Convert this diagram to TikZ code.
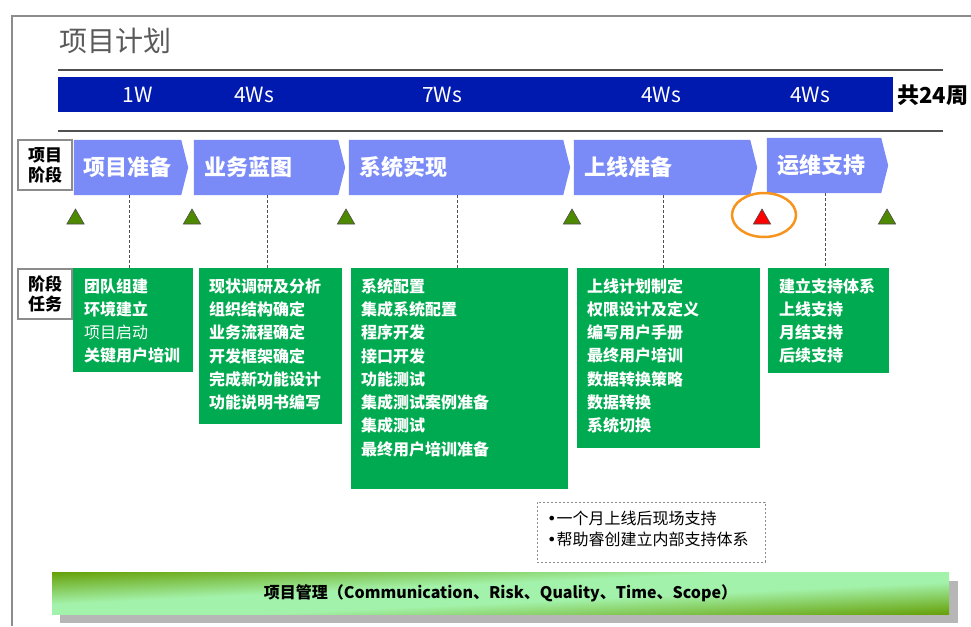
\documentclass[tikz,border=0pt]{standalone}
\usepackage{fontspec}
\setmainfont{Noto Sans CJK SC}
\newfontfamily\dvfont{DejaVu Sans}
\usetikzlibrary{shapes.geometric}
\definecolor{barblue}{RGB}{0,25,175}
\definecolor{chevblue}{RGB}{122,139,248}
\definecolor{boxgreen}{RGB}{0,170,80}
\definecolor{trigreen}{RGB}{78,138,0}
\definecolor{framegray}{RGB}{140,140,140}
\definecolor{linegray}{RGB}{80,80,80}
\definecolor{ringorange}{RGB}{247,148,29}
\definecolor{shadowgray}{RGB}{182,182,182}
\definecolor{titlegray}{RGB}{90,90,90}
% diagonal green shading: dark at top-left and bottom-right corners, light in between
\pgfdeclarefunctionalshading{mgmtgreen}{\pgfpoint{-50bp}{-50bp}}{\pgfpoint{50bp}{50bp}}{}{
  sub abs 50 div 1 exch sub 1.3 mul dup 1 gt {pop 1} if dup 0 lt {pop 0} if
  dup 0.24 mul 0.40 add exch
  dup 0.32 mul 0.63 add exch
  0.64 mul 0.03 add
}
\begin{document}
\begin{tikzpicture}[x=1pt,y=-1pt,
  rowlbl/.style={draw=framegray, line width=2pt, fill=white, minimum width=54pt, minimum height=50pt, inner sep=0pt, align=center, font=\fontsize{17}{20}\selectfont\bfseries},
  weeklbl/.style={text=white, inner sep=0pt, font=\fontsize{21}{24}\selectfont},
  chevarea/.style={inner sep=0pt, minimum height=55pt},
  chevtext/.style={text=white, anchor=west, inner sep=0pt, font=\fontsize{22}{26}\selectfont\bfseries},
  taskbox/.style={fill=boxgreen, inner sep=0pt},
  tasktext/.style={text=white, anchor=west, inner sep=0pt, font=\fontsize{16}{18}\selectfont\bfseries},
  milestone/.style={regular polygon, regular polygon sides=3, minimum size=20pt, inner sep=0pt, fill=trigreen, draw=black!70, line width=0.6pt},
  guide/.style={draw=linegray, line width=1pt, dash pattern=on 3pt off 2pt},
]
\useasboundingbox (0,0) rectangle (971,626);
% frame
\draw[framegray, line width=2pt] (12,626) -- (12,16) -- (971,16);
% title
\node[anchor=west, inner sep=0pt, text=titlegray, font=\fontsize{28}{32}\selectfont] (title) at (59,41) {项目计划};
% rules
\draw[linegray, line width=1.5pt] (58,70) -- (943,70);
\draw[linegray, line width=1.5pt] (58,131) -- (943,131);
% week bar
\node[fill=barblue, minimum width=835pt, minimum height=35pt, inner sep=0pt, anchor=north west] (bar) at (58,77) {};
\node[weeklbl] (w1) at (138,95) {1W};
\node[weeklbl] (w2) at (254,95) {4Ws};
\node[weeklbl] (w3) at (442,95) {7Ws};
\node[weeklbl] (w4) at (661,95) {4Ws};
\node[weeklbl] (w5) at (810,95) {4Ws};
\node[anchor=west, inner sep=0pt, font=\fontsize{22}{26}\selectfont\bfseries] (total) at (897,95) {共24周};
% row labels
\node[rowlbl] (r1) at (45,165) {项目\\阶段};
\node[rowlbl] (r2) at (45,293.5) {阶段\\任务};
% chevrons
\node[chevarea, minimum width=114pt] (p1) at (131,167.5) {};
\node[chevarea, minimum width=151pt] (p2) at (269.5,167.5) {};
\node[chevarea, minimum width=221pt] (p3) at (459.5,167.5) {};
\node[chevarea, minimum width=183pt] (p4) at (665.5,167.5) {};
\node[chevarea, minimum width=121pt] (p5) at (827.5,165.5) {};
\foreach \p in {p1,p2,p3,p4,p5}{
  \fill[chevblue] (\p.north west) -- ([xshift=-7pt]\p.north east) -- (\p.east) -- ([xshift=-7pt]\p.south east) -- (\p.south west) -- cycle;
}
\node[chevtext] (t1) at (83,167) {项目准备};
\node[chevtext] (t2) at (204,167) {业务蓝图};
\node[chevtext] (t3) at (359,167) {系统实现};
\node[chevtext] (t4) at (584,167) {上线准备};
\node[chevtext] (t5) at (777,165) {运维支持};
% task boxes
\node[taskbox, minimum width=120pt, minimum height=104pt] (g1) at (133,320) {};
\node[taskbox, minimum width=143pt, minimum height=156pt] (g2) at (270.5,346) {};
\node[taskbox, minimum width=217pt, minimum height=221pt] (g3) at (459.5,378.5) {};
\node[taskbox, minimum width=183pt, minimum height=180pt] (g4) at (668.5,358) {};
\node[taskbox, minimum width=121pt, minimum height=105pt] (g5) at (828.5,320.5) {};
% guides
\foreach \i in {1,...,5}{
  \draw[guide] ([xshift=-2pt]p\i.south) -- ([xshift=-2pt]p\i.south |- g\i.north);
}
% task texts
\foreach \t [count=\k from 0] in {团队组建,环境建立,{\mdseries 项目启动},关键用户培训}
  \node[tasktext] (a\k) at (84,{286+23.3*\k}) {\t};
\foreach \t [count=\k from 0] in {现状调研及分析,组织结构确定,业务流程确定,开发框架确定,完成新功能设计,功能说明书编写}
  \node[tasktext] (b\k) at (209,{286+23.3*\k}) {\t};
\foreach \t [count=\k from 0] in {系统配置,集成系统配置,程序开发,接口开发,功能测试,集成测试案例准备,集成测试,最终用户培训准备}
  \node[tasktext] (c\k) at (361,{286+23.3*\k}) {\t};
\foreach \t [count=\k from 0] in {上线计划制定,权限设计及定义,编写用户手册,最终用户培训,数据转换策略,数据转换,系统切换}
  \node[tasktext] (d\k) at (587,{286+23.3*\k}) {\t};
\foreach \t [count=\k from 0] in {建立支持体系,上线支持,月结支持,后续支持}
  \node[tasktext] (e\k) at (779,{286+23.3*\k}) {\t};
% milestones
\node[milestone] (m1) at (75.5,219) {};
\node[milestone] (m2) at (192,219) {};
\node[milestone] (m3) at (346,219) {};
\node[milestone] (m4) at (572,219) {};
\node[milestone, fill=red] (m5) at (762,219) {};
\node[milestone] (m6) at (887,219) {};
\node[ellipse, draw=ringorange, line width=2.5pt, minimum width=64pt, minimum height=44pt, inner sep=0pt] (ring) at (764,215) {};
% note
\node[draw=framegray, line width=1pt, dash pattern=on 2pt off 2pt, minimum width=228pt, minimum height=60pt, inner sep=0pt] (note) at (651,532) {};
\node[anchor=west, inner sep=0pt, align=left, font=\fontsize{16}{21}\selectfont] (notetxt) at (547,528.5) {{\dvfont •}一个月上线后现场支持\\{\dvfont •}帮助睿创建立内部支持体系};
% management bar
\fill[shadowgray] (60,581) rectangle (958,623);
\node[minimum width=897pt, minimum height=42pt, inner sep=0pt, shading=mgmtgreen, shade, font=\fontsize{16}{18}\selectfont\bfseries] (mgmt) at (500.5,593) {项目管理（Communication、Risk、Quality、Time、Scope）};
\end{tikzpicture}
\end{document}
